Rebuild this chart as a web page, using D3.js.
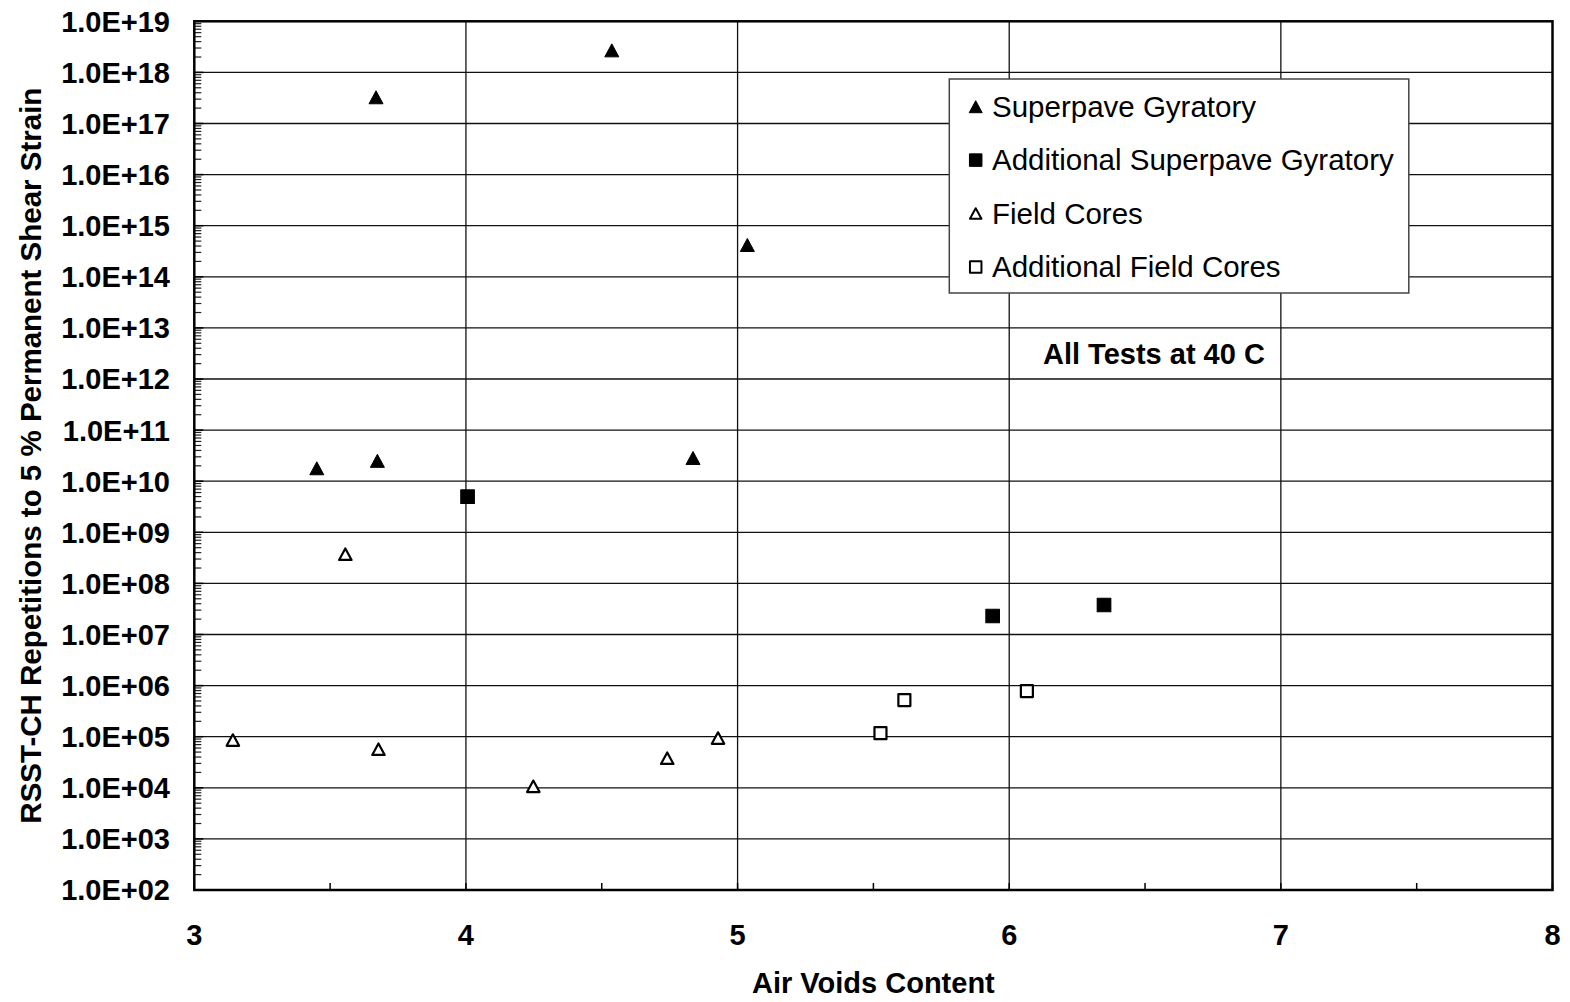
<!DOCTYPE html>
<html><head><meta charset="utf-8">
<script src="https://cdn.jsdelivr.net/npm/d3@7"></script>
<style>html,body{margin:0;padding:0;background:#fff;} svg{display:block;} svg text{font-family:"Liberation Sans",Arimo,Arial,Helvetica,sans-serif;}</style>
</head><body>
<svg id="chart" width="1570" height="1002"></svg>
<script>
// ---- data ----
const sgX = [3.669, 4.537, 5.036, 3.451, 3.674, 4.836];
const sgY = [3.26e17, 2.7e18, 4.19e14, 1.79e10, 2.5e10, 2.85e10];
const asgX = [4.006, 5.939, 6.349];
const asgY = [4.98e9, 2.3e7, 3.78e7];
const fcX = [3.142, 3.556, 3.678, 4.248, 4.741, 4.928];
const fcY = [8.6e4, 3.73e8, 5.7e4, 1.07e4, 3.8e4, 9.4e4];
const afcX = [5.526, 5.614, 6.065];
const afcY = [1.17e5, 5.2e5, 7.8e5];
const seriesNames = ["Superpave Gyratory", "Additional Superpave Gyratory", "Field Cores", "Additional Field Cores"];
const xTicks = [3, 4, 5, 6, 7, 8];
const yTickValues = [1e2,1e3,1e4,1e5,1e6,1e7,1e8,1e9,1e10,1e11,1e12,1e13,1e14,1e15,1e16,1e17,1e18,1e19];
const yTickLabels = ["1.0E+02","1.0E+03","1.0E+04","1.0E+05","1.0E+06","1.0E+07","1.0E+08","1.0E+09","1.0E+10","1.0E+11","1.0E+12","1.0E+13","1.0E+14","1.0E+15","1.0E+16","1.0E+17","1.0E+18","1.0E+19"];
const xTitle = "Air Voids Content";
const yTitle = "RSST-CH Repetitions to 5 % Permanent Shear Strain";
const note = "All Tests at 40 C";

// ---- layout ----
const L = 194.3, R = 1552.5, T = 21.3, B = 890;
const FF = "'Liberation Sans', Arimo, Arial, sans-serif";
const svg = d3.select("#chart");
const x = d3.scaleLinear().domain([3, 8]).range([L, R]);
const y = d3.scaleLog().domain([1e2, 1e19]).range([B, T]);

// gridlines
const grid = svg.append("g");
grid.selectAll(".gy").data(yTickValues.slice(1, -1)).enter().append("line")
  .attr("x1", L).attr("x2", R).attr("y1", d => y(d)).attr("y2", d => y(d))
  .attr("stroke", "#111").attr("stroke-width", 1.3);
grid.selectAll(".gx").data(xTicks.slice(1, -1)).enter().append("line")
  .attr("y1", T).attr("y2", B).attr("x1", d => x(d)).attr("x2", d => x(d))
  .attr("stroke", "#111").attr("stroke-width", 1.3);

// minor y ticks (inside)
const minorY = [];
for (let e = 2; e < 19; e++) for (let m = 2; m <= 9; m++) minorY.push(m * Math.pow(10, e));
svg.append("g").selectAll("line").data(minorY).enter().append("line")
  .attr("x1", L).attr("x2", L + 7).attr("y1", d => y(d)).attr("y2", d => y(d))
  .attr("stroke", "#222").attr("stroke-width", 1.2);
svg.append("g").selectAll("line").data(yTickValues).enter().append("line")
  .attr("x1", L).attr("x2", L + 9).attr("y1", d => y(d)).attr("y2", d => y(d))
  .attr("stroke", "#000").attr("stroke-width", 1.5);
const xMinor = [3.5, 4.5, 5.5, 6.5, 7.5];
svg.append("g").selectAll("line").data(xTicks.concat(xMinor)).enter().append("line")
  .attr("x1", d => x(d)).attr("x2", d => x(d)).attr("y1", B).attr("y2", B - 7)
  .attr("stroke", "#000").attr("stroke-width", 1.5);

// frame
svg.append("rect").attr("x", L).attr("y", T).attr("width", R - L).attr("height", B - T)
  .attr("fill", "none").attr("stroke", "#000").attr("stroke-width", 2.5);

// y tick labels
svg.append("g").selectAll("text").data(yTickValues).enter().append("text")
  .attr("x", 170).attr("y", d => y(d) + 10.4)
  .attr("text-anchor", "end").attr("font-family", FF).attr("font-size", 29).attr("font-weight", "bold")
  .text((d, i) => yTickLabels[i]);
// x tick labels
svg.append("g").selectAll("text").data(xTicks).enter().append("text")
  .attr("x", d => x(d)).attr("y", 945)
  .attr("text-anchor", "middle").attr("font-family", FF).attr("font-size", 29).attr("font-weight", "bold")
  .text(d => d);

// axis titles
svg.append("text").attr("x", (L + R) / 2).attr("y", 993)
  .attr("text-anchor", "middle").attr("font-family", FF).attr("font-size", 29).attr("font-weight", "bold").text(xTitle);
svg.append("text").attr("transform", `translate(41,${(T + B) / 2}) rotate(-90)`)
  .attr("text-anchor", "middle").attr("font-family", FF).attr("font-size", 29.5).attr("font-weight", "bold").text(yTitle);

// note
svg.append("text").attr("x", 1043).attr("y", 364)
  .attr("font-family", FF).attr("font-size", 29).attr("font-weight", "bold").text(note);

// markers
function triPath(w, h) { return `M0,${-h/2}L${w/2},${h/2}L${-w/2},${h/2}Z`; }
function sqPath(s) { return `M${-s/2},${-s/2}H${s/2}V${s/2}H${-s/2}Z`; }
const styles = [
  { path: triPath(14, 13), fill: "#000", stroke: "#000", sw: 1 },
  { path: sqPath(13.5), fill: "#000", stroke: "#000", sw: 1.2 },
  { path: triPath(12.5, 11.5), fill: "#fff", stroke: "#000", sw: 2.2 },
  { path: sqPath(12), fill: "#fff", stroke: "#000", sw: 2.2 }
];
const series = [[sgX, sgY], [asgX, asgY], [fcX, fcY], [afcX, afcY]];
series.forEach((s, k) => {
  const pts = s[0].map((v, i) => [v, s[1][i]]);
  svg.append("g").selectAll("path").data(pts).enter().append("path")
    .attr("d", styles[k].path)
    .attr("transform", d => `translate(${x(d[0])},${y(d[1])})`)
    .attr("fill", styles[k].fill).attr("stroke", styles[k].stroke)
    .attr("stroke-width", styles[k].sw).attr("stroke-linejoin", "round");
});

// legend
const lg = svg.append("g");
lg.append("rect").attr("x", 949.3).attr("y", 79).attr("width", 459.5).attr("height", 214)
  .attr("fill", "#fff").attr("stroke", "#444").attr("stroke-width", 1.5);
const legStyles = [
  { path: triPath(13, 12), fill: "#000", sw: 1 },
  { path: sqPath(12.5), fill: "#000", sw: 1 },
  { path: triPath(11.5, 10.5), fill: "#fff", sw: 2 },
  { path: sqPath(11.5), fill: "#fff", sw: 2 }
];
seriesNames.forEach((n, i) => {
  const cy = 106.7 + i * 53.4;
  lg.append("path").attr("d", legStyles[i].path).attr("transform", `translate(975.7,${cy})`)
    .attr("fill", legStyles[i].fill).attr("stroke", "#000").attr("stroke-width", legStyles[i].sw)
    .attr("stroke-linejoin", "round");
  lg.append("text").attr("x", 992).attr("y", cy + 10.3)
    .attr("font-family", FF).attr("font-size", 29.5).text(n);
});
</script>
</body></html>
